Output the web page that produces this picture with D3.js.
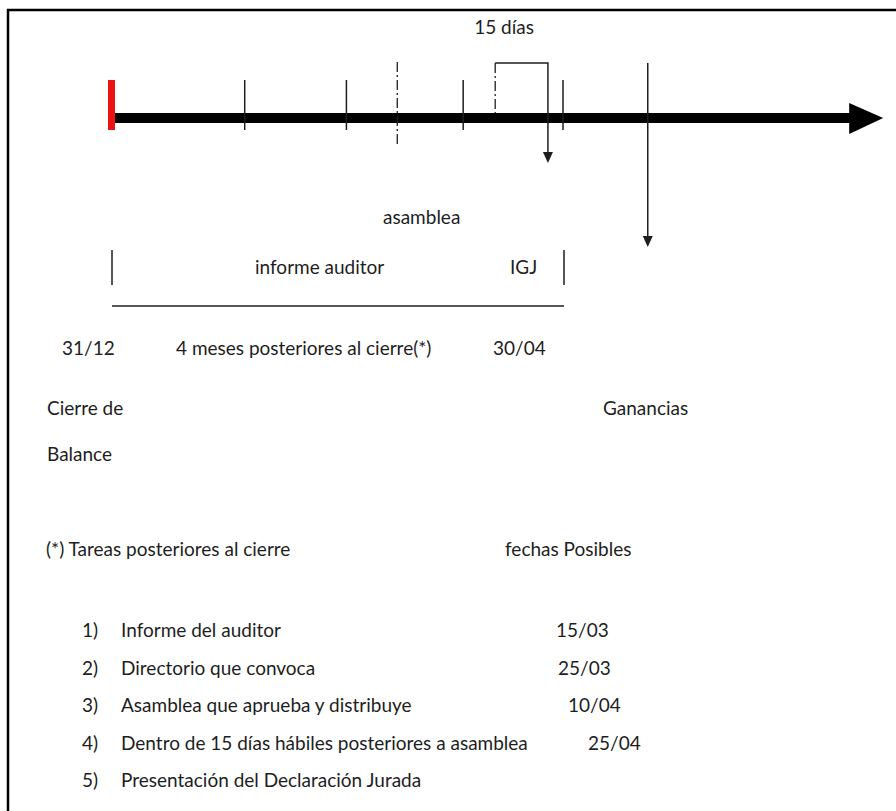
<!DOCTYPE html>
<html>
<head>
<meta charset="utf-8">
<script src="https://cdn.jsdelivr.net/npm/d3@7"></script>
<style>
  body { margin: 0; background: #fff; }
  text { font-family: Lato, "Noto Sans", sans-serif; font-size: 19px; fill: #1e1e1e; }
</style>
</head>
<body>
<div id="chart"></div>
<script>
// timeline values, in days after the closing date (31/12)
const solidTickDays = [35.5, 62.5, 93.5, 120];
const auditorDay = 76;
const asambleaSpan = [102, 116];
const gananciasDay = 142.5;
const axisEndDay = 205;

// texts
const spanLabel = "15 días";
const upperLabels = ["asamblea", "informe auditor", "IGJ"];
const dateRow = ["31/12", "4 meses posteriores al cierre(*)", "30/04"];
const sideLabels = ["Cierre de", "Balance", "Ganancias"];
const headers = ["(*) Tareas posteriores al cierre", "fechas Posibles"];
const tareas = [
    "Informe del auditor",
    "Directorio que convoca",
    "Asamblea que aprueba y distribuye",
    "Dentro de 15 días hábiles posteriores a asamblea",
    "Presentación del Declaración Jurada"
];
const fechas = ["15/03", "25/03", "10/04", "25/04", ""];

// layout
const width = 896, height = 811;
const axisY = 118;
const fechaX = [556, 558, 568, 588, 0];

const svg = d3.select("#chart")
    .append("svg")
    .attr("width", width)
    .attr("height", height)
    .style("display", "block");

// day -> pixel
const x = d3.scaleLinear()
    .domain([0, 120])
    .range([111, 563]);

// frame (top and left edge only)
svg.append("path")
    .attr("d", `M8,${height} V10 H${width}`)
    .attr("fill", "none")
    .attr("stroke", "#000")
    .attr("stroke-width", 2.5);

// main arrow
svg.append("line")
    .attr("x1", x(0) + 2)
    .attr("x2", x(axisEndDay) - 32)
    .attr("y1", axisY)
    .attr("y2", axisY)
    .attr("stroke", "#000")
    .attr("stroke-width", 10);

svg.append("path")
    .attr("d", `M${x(axisEndDay) - 34},${axisY - 15} L${x(axisEndDay)},${axisY} L${x(axisEndDay) - 34},${axisY + 16} Z`)
    .attr("fill", "#000");

// red start mark
svg.append("rect")
    .attr("x", x(0) - 3)
    .attr("y", axisY - 38)
    .attr("width", 7)
    .attr("height", 50)
    .attr("fill", "#ee1111");

// solid ticks
svg.selectAll(".tick")
    .data(solidTickDays)
    .enter()
    .append("line")
    .attr("class", "tick")
    .attr("x1", d => x(d))
    .attr("x2", d => x(d))
    .attr("y1", axisY - 38)
    .attr("y2", axisY + 12)
    .attr("stroke", "#1e1e1e")
    .attr("stroke-width", 1.5);

// dash-dot tick (informe auditor)
svg.append("line")
    .attr("x1", x(auditorDay))
    .attr("x2", x(auditorDay))
    .attr("y1", axisY - 56)
    .attr("y2", axisY + 27)
    .attr("stroke", "#1e1e1e")
    .attr("stroke-width", 1.3)
    .attr("stroke-dasharray", "10,3,2,3");

// 15 dias bracket
const bTop = axisY - 55;
svg.append("line")
    .attr("x1", x(asambleaSpan[0]))
    .attr("x2", x(asambleaSpan[0]))
    .attr("y1", bTop)
    .attr("y2", axisY - 5)
    .attr("stroke", "#1e1e1e")
    .attr("stroke-width", 1.3)
    .attr("stroke-dasharray", "10,3,2,3");

svg.append("path")
    .attr("d", `M${x(asambleaSpan[0])},${bTop} H${x(asambleaSpan[1])} V${axisY + 36}`)
    .attr("fill", "none")
    .attr("stroke", "#1e1e1e")
    .attr("stroke-width", 1.5);

function arrowHead(cx, tipY) {
    svg.append("path")
        .attr("d", `M${cx - 5},${tipY - 11} L${cx + 5},${tipY - 11} L${cx},${tipY} Z`)
        .attr("fill", "#1e1e1e");
}
arrowHead(x(asambleaSpan[1]), axisY + 45);

svg.append("text")
    .attr("x", x(asambleaSpan[0]) - 21)
    .attr("y", 34)
    .text(spanLabel);

// Ganancias arrow
svg.append("line")
    .attr("x1", x(gananciasDay))
    .attr("x2", x(gananciasDay))
    .attr("y1", bTop)
    .attr("y2", 240)
    .attr("stroke", "#1e1e1e")
    .attr("stroke-width", 1.5);
arrowHead(x(gananciasDay), 247);

// lower bracket, 31/12 to 30/04
svg.selectAll(".bracket")
    .data([0, 120])
    .enter()
    .append("line")
    .attr("class", "bracket")
    .attr("x1", d => x(d) + 1)
    .attr("x2", d => x(d) + 1)
    .attr("y1", 250)
    .attr("y2", 285)
    .attr("stroke", "#1e1e1e")
    .attr("stroke-width", 1.5);

svg.append("line")
    .attr("x1", x(0) + 1)
    .attr("x2", x(120) + 1)
    .attr("y1", 306)
    .attr("y2", 306)
    .attr("stroke", "#1e1e1e")
    .attr("stroke-width", 1.5);

svg.append("text").attr("x", 383).attr("y", 224).text(upperLabels[0]);
svg.append("text").attr("x", 255).attr("y", 274).text(upperLabels[1]);
svg.append("text").attr("x", 510).attr("y", 274).text(upperLabels[2]);

// date row
const dateRowX = [62, 176, 493];
svg.selectAll(".daterow")
    .data(dateRow)
    .enter()
    .append("text")
    .attr("class", "daterow")
    .attr("x", (d, i) => dateRowX[i])
    .attr("y", 355)
    .text(d => d);

svg.append("text").attr("x", 47).attr("y", 415).text(sideLabels[0]);
svg.append("text").attr("x", 47).attr("y", 461).text(sideLabels[1]);
svg.append("text").attr("x", 603).attr("y", 415).text(sideLabels[2]);

svg.append("text").attr("x", 46).attr("y", 556).text(headers[0]);
svg.append("text").attr("x", 505).attr("y", 556).text(headers[1]);

// numbered list
const rowY = d3.scalePoint()
    .domain(d3.range(tareas.length))
    .range([637, 787]);

const rows = svg.selectAll(".row")
    .data(tareas)
    .enter()
    .append("g")
    .attr("class", "row")
    .attr("transform", (d, i) => `translate(0, ${rowY(i)})`);

rows.append("text")
    .attr("x", 82)
    .text((d, i) => `${i + 1})`);

rows.append("text")
    .attr("x", 121)
    .text(d => d);

rows.append("text")
    .attr("x", (d, i) => fechaX[i])
    .text((d, i) => fechas[i]);
</script>
</body>
</html>
